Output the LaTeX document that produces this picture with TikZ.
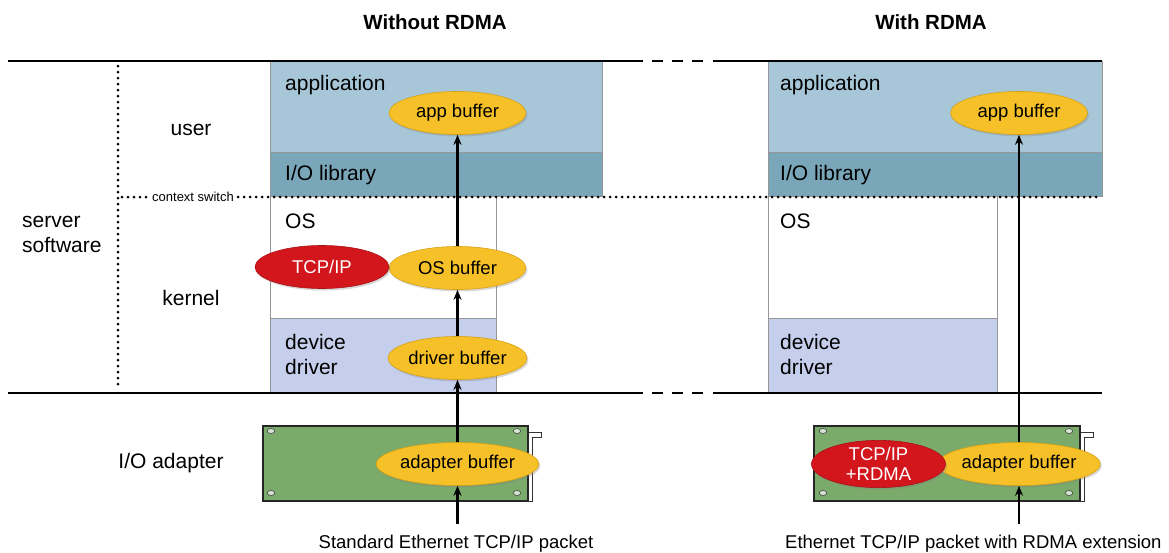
\documentclass[tikz,border=0pt]{standalone}
\usepackage{fontspec}
\setmainfont{Liberation Sans}
\usetikzlibrary{shapes.geometric,arrows.meta,shadows}
\definecolor{appc}{RGB}{167,199,216}
\definecolor{ioc}{RGB}{121,166,185}
\definecolor{drvc}{RGB}{197,206,235}
\definecolor{cardc}{RGB}{122,171,107}
\definecolor{yel}{RGB}{246,193,40}
\definecolor{yeld}{RGB}{214,160,20}
\definecolor{redc}{RGB}{210,22,28}
\definecolor{boxgray}{RGB}{150,150,150}
\begin{document}
\begin{tikzpicture}[x=1pt,y=-1pt,
  box/.style={draw=boxgray, line width=0.8pt, anchor=north west, inner sep=0pt},
  card/.style={draw=black!85, fill=cardc, line width=1.6pt, anchor=north west, inner sep=0pt, minimum height=75pt},
  lbl/.style={font=\fontsize{21}{25}\selectfont, inner sep=0pt},
  hdr/.style={font=\bfseries\fontsize{20.5}{24}\selectfont, inner sep=0pt},
  buf/.style={ellipse, line width=0.6pt, minimum width=137pt, minimum height=43pt, inner sep=0pt,
    font=\fontsize{18.5}{20}\selectfont, drop shadow={opacity=0.3, shadow xshift=1.5pt, shadow yshift=-2pt}},
  ybuf/.style={buf, fill=yel, draw=yeld},
  rbuf/.style={buf, fill=redc, draw=redc!80!black, text=white, minimum width=134pt, align=center},
  mainline/.style={line width=2.8pt, black},
  dashline/.style={line width=2.8pt, black, dash pattern=on 11pt off 9pt},
  dotline/.style={line width=3pt, line cap=round, dash pattern=on 0pt off 6pt},
  arr/.style={line width=2.2pt, -{Stealth[length=10pt,width=8pt]}},
  hole/.style={ellipse, draw=black!70, fill=white!70!cardc, line width=0.7pt, minimum width=7.5pt, minimum height=5pt, inner sep=0pt}
]
\useasboundingbox (0,0) rectangle (1169,552);

% headers
\node[hdr] (hL) at (435,22) {Without RDMA};
\node[hdr] (hR) at (931,22) {With RDMA};

% left stack boxes
\node[box, fill=appc, minimum width=332pt, minimum height=91pt] (appL) at (270,61) {};
\node[box, fill=ioc, minimum width=332pt, minimum height=44pt] (ioL) at (270,152) {};
\node[box, fill=white, minimum width=226pt, minimum height=122pt] (osL) at (270,196) {};
\node[box, fill=drvc, minimum width=226pt, minimum height=75pt] (drvL) at (270,318) {};

% right stack boxes
\node[box, fill=appc, minimum width=334pt, minimum height=91pt] (appR) at (768,61) {};
\node[box, fill=ioc, minimum width=334pt, minimum height=44pt] (ioR) at (768,152) {};
\node[box, fill=white, minimum width=229pt, minimum height=122pt] (osR) at (768,196) {};
\node[box, fill=drvc, minimum width=229pt, minimum height=75pt] (drvR) at (768,318) {};

% box labels
\node[lbl, anchor=west] at (285,85) {application};
\node[lbl, anchor=west] at (285,175) {I/O library};
\node[lbl, anchor=west] at (285,221) {OS};
\node[lbl, anchor=west, align=left] at (285,354) {device\\driver};
\node[lbl, anchor=west] at (780,85) {application};
\node[lbl, anchor=west] at (780,175) {I/O library};
\node[lbl, anchor=west] at (780,221) {OS};
\node[lbl, anchor=west, align=left] at (780,354) {device\\driver};

% left labels
\node[lbl] at (191,130) {user};
\node[lbl, anchor=west, align=left] at (22,234) {server\\software};
\node[lbl] at (191,298) {kernel};
\node[lbl] at (171,463) {I/O adapter};

% context switch dotted line
\node[font=\fontsize{13}{15}\selectfont, inner sep=4pt] (cs) at (193,197) {context switch};
\coordinate (csA) at (122,197);
\coordinate (csB) at (1102,197);
\draw[dotline] (csA) -- (cs.west);
\draw[dotline] (cs.east) -- (csB);
\coordinate (vA) at (118,66);
\coordinate (vB) at (118,388);
\draw[dotline] (vA) -- (vB);

% horizontal separator lines
\draw[mainline] (8,61) -- (643,61);
\draw[dashline] (652,61) -- (706,61);
\draw[mainline] (713,61) -- (1102,61);
\draw[mainline] (8,393) -- (643,393);
\draw[dashline] (652,393) -- (706,393);
\draw[mainline] (713,393) -- (1102,393);

% adapter cards
\node[card, minimum width=265pt] (cardL) at (262,425) {};
\draw[line width=1pt, black!80] (cardL.north east) ++(0,7) -- ++(13,0) -- ++(0,5) -- ++(-9,0) |- (cardL.south east);
\node[card, minimum width=266pt] (cardR) at (813,425) {};
\draw[line width=1pt, black!80] (cardR.north east) ++(0,7) -- ++(13,0) -- ++(0,5) -- ++(-9,0) |- (cardR.south east);
\node[hole] at (271,431) {};
\node[hole] at (517,431) {};
\node[hole] at (271,493) {};
\node[hole] at (517,493) {};
\node[hole] at (823,431) {};
\node[hole] at (1069,431) {};
\node[hole] at (823,493) {};
\node[hole] at (1069,493) {};

% buffers
\node[ybuf] (appbL) at (457.5,113) {app buffer};
\node[ybuf] (osbL) at (457.5,268) {OS buffer};
\node[rbuf] (tcpL) at (322,267) {TCP/IP};
\node[ybuf] (drvbL) at (457.5,358) {driver buffer};
\node[ybuf] (adbL) at (457.5,464) {adapter buffer};

\node[ybuf] (appbR) at (1019,113) {app buffer};
\node[ybuf] (adbR) at (1019,464) {adapter buffer};
\node[rbuf] (tcpR) at (878.5,464) {TCP/IP\\+RDMA};

% packets
\coordinate (pkL) at (457.5,524);
\coordinate (pkR) at (1019,524);
\node[font=\fontsize{18.5}{20}\selectfont, inner sep=0pt] (txL) at (456,544) {Standard Ethernet TCP/IP packet};
\node[font=\fontsize{18.5}{20}\selectfont, inner sep=0pt, anchor=west] (txR) at (785,544) {Ethernet TCP/IP packet with RDMA extension};

% arrows
\draw[arr] (pkL) -- (adbL.south);
\draw[arr] (adbL.north) -- (drvbL.south);
\draw[arr] (drvbL.north) -- (osbL.south);
\draw[arr] (osbL.north) -- (appbL.south);
\draw[arr] (pkR) -- (adbR.south);
\draw[arr] (adbR.north) -- (appbR.south);
\end{tikzpicture}
\end{document}
